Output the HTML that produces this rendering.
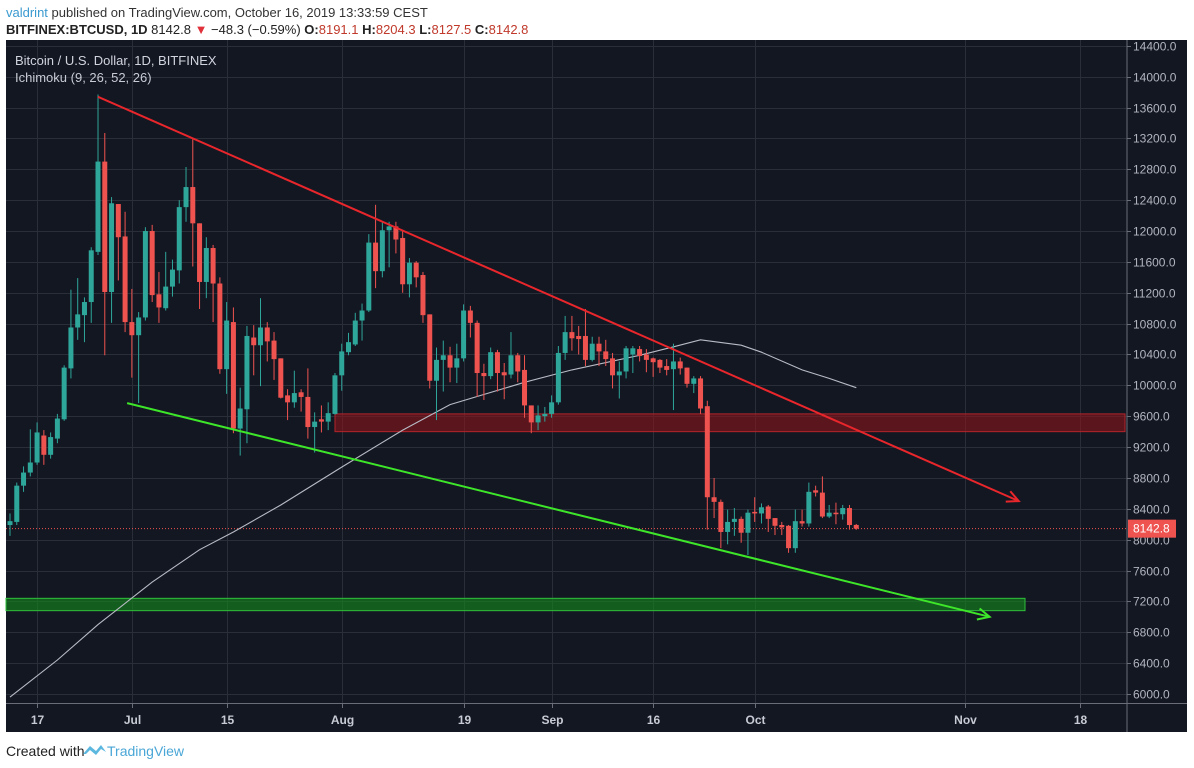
<!DOCTYPE html>
<html><head><meta charset="utf-8"><style>
html,body{margin:0;padding:0;background:#fff;width:1194px;height:768px;overflow:hidden}
svg{display:block}
text{font-family:"Liberation Sans",sans-serif}
</style></head><body>
<svg id="chart" width="1194" height="768" viewBox="0 0 1194 768">
<text x="6" y="17" font-size="13" fill="#333"><tspan fill="#3a9ad0">valdrint</tspan> published on TradingView.com, October 16, 2019 13:33:59 CEST</text>
<text x="6" y="34" font-size="13" fill="#222"><tspan font-weight="bold">BITFINEX:BTCUSD, 1D</tspan> 8142.8 <tspan fill="#e0303a">▼</tspan> −48.3 (−0.59%) <tspan font-weight="bold">O:</tspan><tspan fill="#c0392b">8191.1</tspan> <tspan font-weight="bold">H:</tspan><tspan fill="#c0392b">8204.3</tspan> <tspan font-weight="bold">L:</tspan><tspan fill="#c0392b">8127.5</tspan> <tspan font-weight="bold">C:</tspan><tspan fill="#c0392b">8142.8</tspan></text>
<rect x="6" y="40" width="1181" height="692" fill="#131722"/>
<g id="grid"></g>
<g id="zones"></g>
<g id="plot"></g>
<g id="draw"></g>
<line x1="1127" y1="40" x2="1127" y2="732" stroke="#6a6d78" stroke-width="1"/>
<line x1="6" y1="703.5" x2="1187" y2="703.5" stroke="#6a6d78" stroke-width="1"/>
<g id="axes"></g>
<text x="15" y="65" font-size="13" fill="#d1d4dc">Bitcoin / U.S. Dollar, 1D, BITFINEX</text>
<text x="15" y="82" font-size="13" fill="#c8cbd3">Ichimoku (9, 26, 52, 26)</text>
<text x="6" y="756" font-size="14" fill="#222">Created with</text>
<path d="M83 754 L90 746 L96 751 L101 745 L106 752 L101 749 L96 755 L90 750 L86 754 Z" fill="#5cb8df"/>
<text x="107" y="756" font-size="14" fill="#4aa6d6">TradingView</text>
</svg>
<script>
const opens=[8190,8230,8700,8870,9000,9350,9100,9310,9560,10220,10750,10910,11080,11730,12900,11210,12350,11930,10820,10650,10880,12000,11180,11000,11280,11490,12310,12570,12100,11340,11780,11320,10210,10820,9440,9690,10620,10520,10750,10580,10350,9870,9780,9910,9850,9460,9560,9530,9630,10130,10430,10530,10840,10970,11850,11480,12010,12060,11910,11310,11590,11430,10920,10060,10330,10390,10230,10350,10970,10810,10160,10120,10430,10170,10140,10390,10200,9740,9520,9600,9630,9780,10420,10690,10640,10640,10330,10540,10440,10350,10130,10180,10400,10470,10400,10350,10330,10250,10210,10310,10230,10020,10090,9730,8550,8490,8100,8230,8270,8090,8360,8340,8430,8280,8190,8180,7890,8240,8210,8640,8610,8300,8350,8330,8410,8191];
const highs=[8340,8740,8950,9430,9520,9420,9390,9630,10260,11240,11390,11140,11790,13770,13270,12440,12350,12250,11250,10950,12050,12080,11470,11730,11630,12400,12830,13210,12100,11920,11820,11400,11080,11010,9970,10770,10780,11130,10820,10690,10350,9950,10190,9950,10220,9650,9740,9780,10160,10540,10680,10940,11060,11960,12340,12120,12120,12120,12010,11650,11610,11470,10920,10490,10580,10500,10540,11050,11030,10840,10280,10490,10460,10290,10690,10420,10390,9740,9740,9720,9870,10510,10900,10900,10770,10990,10630,10630,10590,10420,10310,10510,10510,10510,10470,10360,10340,10340,10540,10360,10230,10120,10120,9800,8800,8520,8390,8410,8300,8390,8550,8470,8450,8280,8230,8190,8390,8390,8740,8700,8820,8450,8480,8450,8450,8204];
const lows=[8050,8190,8620,8820,8970,8970,9050,9250,9540,10090,10590,10560,10810,11690,10390,10810,11360,10690,10100,9770,10840,11080,10810,10970,11150,11320,12120,11540,10990,11130,10820,10150,9890,9380,9090,9250,10130,9990,10310,10070,9830,9550,9710,9660,9310,9130,9390,9420,9620,9930,10390,10510,10580,10950,11260,11400,11530,11710,11200,11140,11270,10810,9960,9550,9920,10040,10030,10310,10620,9850,9810,10080,9920,9820,10090,10040,9580,9380,9420,9530,9580,9750,10330,10450,10400,10250,10310,10250,10250,9960,9830,10090,10160,10310,10170,10110,10160,10130,9680,10140,9970,9900,9630,8130,8280,7890,7940,8050,7960,7800,8230,8210,8100,8060,8060,7830,7830,8170,8170,8560,8280,8280,8200,8260,8130,8128];
const closes=[8240,8700,8870,9000,9390,9100,9330,9570,10230,10750,10920,11080,11750,12900,11210,12360,11920,10820,10650,10880,12000,11170,11010,11280,11500,12310,12570,12100,11340,11780,11320,10210,10840,9440,9700,10640,10520,10750,10570,10340,9840,9780,9900,9850,9460,9530,9530,9640,10130,10440,10560,10840,10970,11850,11480,12010,12060,11890,11310,11590,11400,10910,10060,10330,10390,10230,10350,10970,10810,10160,10120,10430,10160,10130,10390,10180,9740,9520,9610,9630,9780,10420,10690,10610,10600,10330,10540,10440,10340,10130,10180,10480,10480,10380,10330,10300,10230,10200,10310,10220,10020,10090,9700,8550,8490,8100,8230,8270,8090,8350,8340,8420,8270,8180,8160,7890,8240,8210,8620,8610,8300,8350,8330,8410,8190,8143];
const lineIdx=[0,7,13,21,28,33,40,49,58,65,76,83,93,98,102,108,111,117,121,125];
const linePrice=[5960,6440,6900,7450,7870,8100,8450,8940,9420,9750,10040,10200,10390,10500,10590,10520,10430,10200,10090,9970];
const priceTicks=[6000,6400,6800,7200,7600,8000,8400,8800,9200,9600,10000,10400,10800,11200,11600,12000,12400,12800,13200,13600,14000,14400];
const timeIdx=[4,18,32,49,67,80,95,110,141,158];
const timeLabels=["17","Jul","15","Aug","19","Sep","16","Oct","Nov","18"];
const lastPrice=8142.8;
const resistZone=[9400,9630];
const supportZone=[7080,7240];
const redTrend=[[13,13740],[149,8500]];
const greenTrend=[[17.3,9770],[144.7,7000]];

const NS="http://www.w3.org/2000/svg";
const yS=p=>694-(p-6000)/12.96;
const xS=i=>10+6.77*i;
function mk(tag,attrs,parent){const e=document.createElementNS(NS,tag);for(const k in attrs)e.setAttribute(k,attrs[k]);parent.appendChild(e);return e;}
const grid=document.getElementById('grid'),plot=document.getElementById('plot'),axes=document.getElementById('axes'),zones=document.getElementById('zones'),draw=document.getElementById('draw');

priceTicks.forEach(p=>{
  const y=Math.round(yS(p))+0.5;
  if(y<703){const g=mk('line',{x1:6,x2:1127,y1:y,y2:y,stroke:'#2a2e39','stroke-width':1},grid);
  
  }
  const t=mk('text',{x:1133,y:y+4,'font-size':12,fill:'#b2b5be'},axes);t.textContent=p.toFixed(1);
  
  
  const tk=mk('line',{x1:1127,x2:1131,y1:y,y2:y,stroke:'#6a6d78'},axes);
  
  
});
timeIdx.forEach((i,k)=>{
  const x=Math.round(xS(i))+0.5;
  const g=mk('line',{x1:x,x2:x,y1:40,y2:703,stroke:'#2a2e39'},grid);
  
  
  const tk=mk('line',{x1:x,x2:x,y1:703,y2:708,stroke:'#6a6d78'},axes);
  
  
  const t=mk('text',{x:x,y:724,'font-size':12,'font-weight':'bold',fill:'#c8cbd3','text-anchor':'middle'},axes);t.textContent=timeLabels[k];
  
  
});

let z=mk('rect',{x:335,y:yS(resistZone[1]),width:790,height:yS(resistZone[0])-yS(resistZone[1]),fill:'rgba(150,20,25,0.55)',stroke:'#b3252b','stroke-width':1},zones);


z=mk('rect',{x:6,y:yS(supportZone[1]),width:1019,height:yS(supportZone[0])-yS(supportZone[1]),fill:'rgba(20,140,30,0.6)',stroke:'#2fbf3a','stroke-width':1},zones);



const lp=mk('line',{x1:6,x2:1127,y1:yS(lastPrice),y2:yS(lastPrice),stroke:'#ef5350','stroke-width':1,'stroke-dasharray':'1,2'},plot);



let d='';lineIdx.forEach((i,k)=>{d+=(k?'L':'M')+xS(i).toFixed(1)+' '+yS(linePrice[k]).toFixed(1)+' ';});
const il=mk('path',{d:d,fill:'none',stroke:'#b8bbc4','stroke-width':1.1},plot);



opens.forEach((o,i)=>{
  const c=closes[i],up=c>=o,col=up?'#2ea69a':'#ef5350',x=xS(i);
  const g=mk('g',{},plot);
  
  
  mk('line',{x1:x,x2:x,y1:yS(highs[i]),y2:yS(lows[i]),stroke:col,'stroke-width':1},g);
  const top=yS(Math.max(o,c)),h=Math.max(1.5,yS(Math.min(o,c))-top);
  mk('rect',{x:x-2.5,y:top,width:5,height:h,fill:col},g);
});

function trend(pts,col,name){
  const x1=xS(pts[0][0]),y1=yS(pts[0][1]),x2=xS(pts[1][0]),y2=yS(pts[1][1]);
  const g=mk('g',{},draw);
  
  
  mk('line',{x1:x1,y1:y1,x2:x2,y2:y2,stroke:col,'stroke-width':2},g);
  const a=Math.atan2(y2-y1,x2-x1),L=13;
  const p1=[x2-L*Math.cos(a-0.45),y2-L*Math.sin(a-0.45)],p2=[x2-L*Math.cos(a+0.45),y2-L*Math.sin(a+0.45)];
  mk('path',{d:`M${p1[0]} ${p1[1]} L${x2} ${y2} L${p2[0]} ${p2[1]}`,fill:'none',stroke:col,'stroke-width':2},g);
}
trend(redTrend,'#e8262b','resistance-trendline');
trend(greenTrend,'#3ee62a','support-trendline');

const lb=mk('rect',{x:1128,y:yS(lastPrice)-9,width:48,height:18,fill:'#ef5350'},axes);


const lt=mk('text',{x:1133,y:yS(lastPrice)+4,'font-size':12,fill:'#fff'},axes);lt.textContent=lastPrice.toFixed(1);


</script>
</body></html>
